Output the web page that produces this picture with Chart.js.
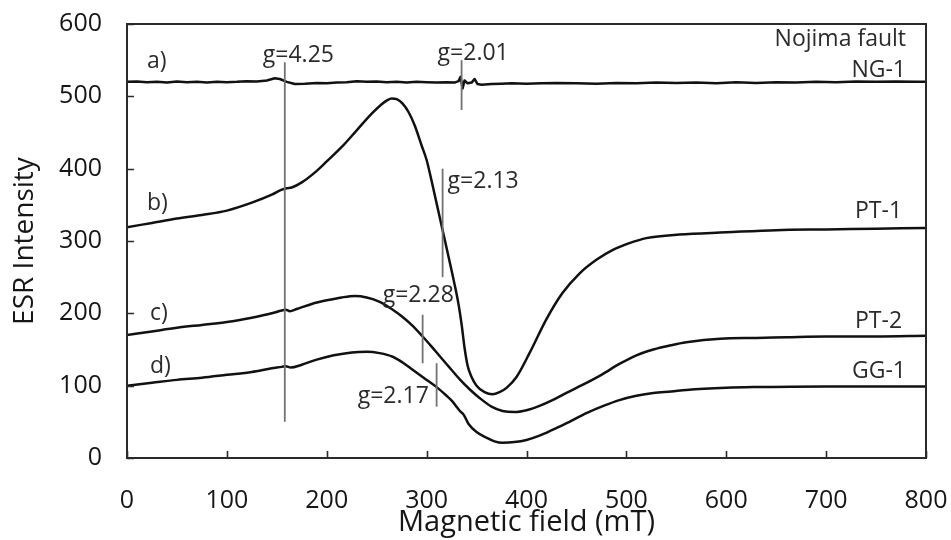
<!DOCTYPE html>
<html>
<head>
<meta charset="utf-8">
<title>ESR spectra – Nojima fault</title>
<script src="https://cdn.jsdelivr.net/npm/chart.js@4/dist/chart.umd.min.js"></script>
<style>
  html, body { margin: 0; padding: 0; background: #fff; }
  #wrap { width: 951px; height: 540px; position: relative; }
</style>
</head>
<body>
<div id="wrap"><canvas id="esr"></canvas></div>
<script>
// Spectrum a) NG-1 (Nojima fault gouge)
const fieldNG1 = [0, 10, 20, 30, 40, 50, 60, 70, 80, 90, 100, 110, 120, 130, 140, 148, 153, 160, 168, 178,
  190, 200, 210, 220, 230, 240, 250, 260, 270, 280, 290, 300, 310, 320, 328, 332, 334, 336, 338, 341,
  345, 348, 351, 355, 365, 375, 385, 400, 415, 430, 450, 470, 490, 510, 530, 550, 570, 590, 610, 630,
  650, 670, 690, 710, 730, 750, 770, 790, 800];
const intensityNG1 = [520, 520.5, 519.5, 520, 519, 520.5, 519.5, 520, 519, 520, 519.5, 520, 521, 520.5, 522, 525, 524, 520, 517, 517.5,
  518.5, 518, 519, 519.5, 521, 520, 520.5, 519.5, 520, 519, 520, 519.5, 519, 519.5, 519, 521, 527, 511, 522, 518,
  519, 524, 517, 516, 517, 517.5, 518, 517.5, 518, 518.5, 518, 517.5, 518.5, 518, 519, 518.5, 519, 518, 519.5, 518.5,
  519.5, 519, 520, 519.5, 520.5, 520, 520.5, 520, 520];

// Spectrum b) PT-1
const fieldPT1 = [0, 25, 50, 75, 100, 125, 145, 155, 160, 165, 175, 190, 200, 215, 230, 245, 255, 260, 265, 270,
  276, 282, 288, 295, 300, 305, 310, 316, 322, 328, 332, 335, 338, 341, 345, 350, 358, 366, 373, 380,
  390, 403, 420, 436, 453, 470, 487, 503, 520, 553, 600, 650, 700, 750, 800];
const intensityPT1 = [319, 325, 331, 336, 342, 353, 364, 371, 373, 374, 381, 397, 410, 430, 453, 476, 489, 494, 497, 496,
  490, 478, 460, 432, 412, 383, 352, 315, 278, 240, 212, 185, 152, 128, 112, 100, 91, 88, 91, 97,
  112, 145, 192, 228, 255, 274, 288, 297, 304, 309, 312, 315, 316, 317, 318];

// Spectrum c) PT-2
const fieldPT2 = [0, 25, 50, 75, 100, 125, 145, 155, 159, 163, 170, 185, 200, 215, 228, 240, 253, 265, 275, 285,
  296, 305, 313, 323, 333, 343, 353, 365, 376, 388, 400, 413, 426, 440, 456, 475, 493, 510, 527, 545,
  560, 594, 630, 661, 700, 750, 800];
const intensityPT2 = [170, 175, 180, 184, 188, 194, 200, 204, 205, 203, 206, 213, 218, 222, 224, 222, 216, 206, 196, 184,
  168, 154, 141, 125, 109, 95, 83, 71, 65, 63.5, 66, 72, 80, 90, 101, 115, 130, 142, 150, 156,
  160, 165, 166, 167, 168, 168, 169];

// Spectrum d) GG-1
const fieldGG1 = [0, 25, 50, 75, 100, 125, 145, 155, 159, 164, 175, 190, 207, 225, 240, 253, 266, 276, 286, 298,
  310, 320, 326, 331, 334, 337, 342, 350, 360, 368, 376, 388, 400, 413, 426, 443, 460, 477, 493, 510,
  527, 545, 560, 600, 627, 700, 800];
const intensityGG1 = [100, 104, 108, 111, 115, 119, 124, 126, 127, 125, 129, 136, 142, 146, 147, 145, 140, 132, 122, 110,
  98, 86, 78, 69, 64, 60, 47, 36, 28, 23, 21, 22, 25, 31, 39, 50, 62, 72, 80, 86,
  90, 92, 94, 97, 98, 99, 99];

// g-value marker lines: field position and vertical extent
const markerField = [158, 335, 316, 296, 310];
const markerLow   = [50, 481, 250, 131, 71];
const markerHigh  = [547, 550, 400, 198, 131];

// Axis ticks
const fieldTicks = [0, 100, 200, 300, 400, 500, 600, 700, 800];
const intensityTicks = [0, 100, 200, 300, 400, 500, 600];

const FONT = "'Open Sans', 'Noto Sans', sans-serif";

function toPoints(xs, ys) { return xs.map((x, i) => ({ x: x, y: ys[i] })); }

const spectra = [
  { label: 'NG-1', xs: fieldNG1, ys: intensityNG1, smooth: false },
  { label: 'PT-1', xs: fieldPT1, ys: intensityPT1, smooth: true },
  { label: 'PT-2', xs: fieldPT2, ys: intensityPT2, smooth: true },
  { label: 'GG-1', xs: fieldGG1, ys: intensityGG1, smooth: true }
];

const datasets = [];
markerField.forEach((f, i) => {
  datasets.push({
    label: 'marker' + i,
    data: [{ x: f, y: markerLow[i] }, { x: f, y: markerHigh[i] }],
    showLine: true, borderColor: '#727272', borderWidth: 1.8,
    pointRadius: 0, tension: 0
  });
});
spectra.forEach(s => {
  datasets.push({
    label: s.label,
    data: toPoints(s.xs, s.ys),
    showLine: true, borderColor: '#111', borderWidth: 2.5,
    pointRadius: 0,
    cubicInterpolationMode: s.smooth ? 'monotone' : 'default',
    tension: s.smooth ? 0.4 : 0,
    borderJoinStyle: 'round', borderCapStyle: 'round'
  });
});

// Text labels placed in data coordinates (field, intensity)
const annotations = [
  { text: 'a)', x: 20, y: 539, align: 'left' },
  { text: 'b)', x: 20, y: 343, align: 'left' },
  { text: 'c)', x: 23, y: 191, align: 'left' },
  { text: 'd)', x: 23, y: 117, align: 'left' },
  { text: 'g=4.25', x: 136, y: 547, align: 'left' },
  { text: 'g=2.01', x: 311, y: 550, align: 'left' },
  { text: 'g=2.13', x: 321, y: 373, align: 'left' },
  { text: 'g=2.28', x: 256, y: 216, align: 'left' },
  { text: 'g=2.17', x: 231, y: 76, align: 'left' },
  { text: 'Nojima fault', x: 780, y: 570, align: 'right' },
  { text: 'NG-1', x: 780, y: 527, align: 'right' },
  { text: 'PT-1', x: 776, y: 332, align: 'right' },
  { text: 'PT-2', x: 776, y: 180, align: 'right' },
  { text: 'GG-1', x: 780, y: 110, align: 'right' }
];

const framePlugin = {
  id: 'frameAndLabels',
  afterDatasetsDraw(chart) {
    const { ctx, chartArea: a, scales } = chart;
    ctx.save();
    // plot frame
    ctx.strokeStyle = '#2a2a2a';
    ctx.lineWidth = 2;
    ctx.strokeRect(a.left, a.top, a.right - a.left, a.bottom - a.top);
    // inward tick marks
    ctx.beginPath();
    fieldTicks.forEach(v => {
      const px = Math.round(scales.x.getPixelForValue(v)) + 0.5;
      ctx.moveTo(px, a.bottom);
      ctx.lineTo(px, a.bottom - 7);
    });
    intensityTicks.forEach(v => {
      const py = Math.round(scales.y.getPixelForValue(v)) + 0.5;
      ctx.moveTo(a.left, py);
      ctx.lineTo(a.left + 7, py);
    });
    ctx.lineWidth = 1.6;
    ctx.stroke();
    // annotations
    ctx.fillStyle = '#2b2b2b';
    ctx.font = '23px ' + FONT;
    ctx.textBaseline = 'alphabetic';
    annotations.forEach(t => {
      ctx.textAlign = t.align;
      ctx.fillText(t.text, scales.x.getPixelForValue(t.x), scales.y.getPixelForValue(t.y));
    });
    ctx.restore();
  }
};

new Chart(document.getElementById('esr'), {
  type: 'scatter',
  data: { datasets: datasets },
  options: {
    responsive: true,
    maintainAspectRatio: false,
    animation: false,
    layout: { padding: { top: 24, right: 25, left: 0, bottom: 0 } },
    plugins: { legend: { display: false }, tooltip: { enabled: false } },
    scales: {
      x: {
        type: 'linear', min: 0, max: 800,
        afterBuildTicks: s => { s.ticks = fieldTicks.map(v => ({ value: v })); },
        afterFit: s => { s.height = 82; s.paddingLeft = 0; s.paddingRight = 0; },
        grid: { display: false }, border: { display: false },
        ticks: { font: { family: FONT, size: 25 }, color: '#161616', padding: 20, maxRotation: 0 },
        title: { display: true, text: 'Magnetic field (mT)', font: { family: FONT, size: 29, lineHeight: 1 },
                 color: '#161616', padding: { top: 0, bottom: 3 } }
      },
      y: {
        type: 'linear', min: 0, max: 600,
        afterBuildTicks: s => { s.ticks = intensityTicks.map(v => ({ value: v })); },
        afterFit: s => { s.width = 127; s.paddingTop = 0; s.paddingBottom = 0; },
        grid: { display: false }, border: { display: false },
        ticks: { font: { family: FONT, size: 25 }, color: '#161616', padding: 17 },
        title: { display: true, text: 'ESR Intensity', font: { family: FONT, size: 28, lineHeight: 1 },
                 color: '#161616', padding: { top: 11, bottom: 0 } }
      }
    }
  },
  plugins: [framePlugin]
});
</script>
</body>
</html>
